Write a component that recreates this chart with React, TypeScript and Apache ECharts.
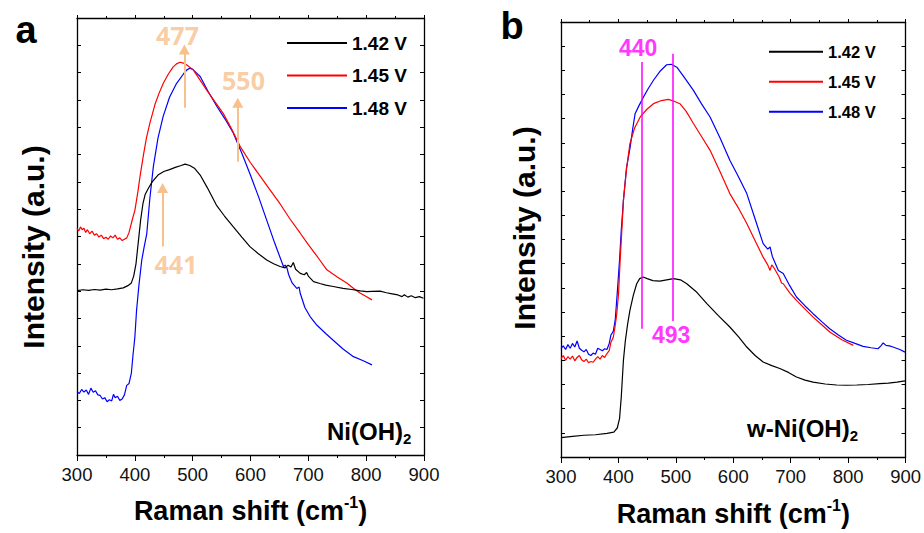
import React, { useEffect, useRef } from "react";
import * as echarts from "echarts";

// ---------- data ----------
const xTicks = [300, 400, 500, 600, 700, 800, 900];
const seriesNames = ["1.42 V", "1.45 V", "1.48 V"];
const seriesColors = ["#000000", "#ff0000", "#0000ff"];

// Panel a : Ni(OH)2
const a142: number[][] = [[300,6.02],[310,6.05],[320,6.03],[330,6.06],[340,6.04],[350,6.07],[360,6.05],[370,6.08],[380,6.12],[388,6.2],[394,6.3],[398,6.55],[402,7.0],[406,7.8],[410,8.6],[414,9.2],[418,9.55],[423,9.75],[430,10.0],[440,10.25],[450,10.38],[460,10.45],[470,10.53],[480,10.6],[487,10.65],[495,10.6],[503,10.5],[513,10.25],[525,9.8],[541,9.15],[555,8.75],[570,8.36],[585,7.98],[599,7.63],[613,7.38],[628,7.14],[640,7.0],[651,6.9],[660,6.85],[665,6.95],[670,6.88],[674,7.05],[678,6.8],[686,6.65],[693,6.6],[697,6.68],[700,6.55],[709,6.35],[720,6.28],[730,6.22],[743,6.17],[760,6.1],[775,6.06],[790,6.01],[801,5.98],[810,5.99],[824,6.0],[835,5.94],[845,5.9],[855,5.86],[862,5.8],[866,5.87],[872,5.78],[878,5.83],[885,5.76],[892,5.8],[899,5.74]];
const a145: number[][] = [[300,8.3],[303,8.2],[306,8.35],[309,8.25],[312,8.3],[315,8.15],[318,8.25],[322,8.1],[326,8.2],[330,8.05],[334,8.1],[338,7.98],[342,8.05],[346,7.92],[350,7.97],[354,7.9],[358,8.02],[362,7.95],[366,8.05],[370,7.9],[374,7.95],[378,7.85],[382,7.9],[386,7.95],[390,8.15],[393,8.4],[396,8.65],[400,8.95],[405,9.6],[409,10.2],[415,11.0],[420,11.6],[426,12.15],[435,12.85],[442,13.25],[449,13.6],[458,13.95],[466,14.2],[472,14.32],[478,14.38],[484,14.35],[490,14.28],[501,14.1],[512,13.75],[524,13.37],[538,12.95],[553,12.5],[567,11.95],[582,11.3],[600,10.7],[617,10.2],[634,9.7],[651,9.2],[668,8.65],[686,8.12],[700,7.7],[716,7.25],[732,6.78],[750,6.52],[767,6.29],[780,6.07],[790,5.92],[800,5.8],[810,5.68]];
const a148: number[][] = [[300,2.32],[304,2.25],[308,2.4],[312,2.3],[316,2.38],[320,2.22],[324,2.45],[328,2.3],[332,2.35],[336,2.2],[340,2.18],[344,2.05],[348,2.1],[352,1.95],[356,2.02],[360,1.98],[363,2.22],[366,2.1],[370,2.15],[374,2.0],[378,2.05],[382,2.2],[386,2.55],[390,2.62],[394,3.0],[397,3.7],[400,4.3],[403,5.3],[407,6.2],[412,7.14],[416,7.6],[420.6,8.1],[426,9.4],[432,10.56],[440,11.6],[449,12.4],[460,13.1],[472,13.6],[484,13.95],[490,14.1],[495,14.16],[500,14.12],[506,14.0],[513,13.86],[527,13.3],[542,12.76],[556,12.3],[570,11.8],[585,11.05],[599,10.3],[614,9.45],[628,8.6],[642,7.75],[657,6.9],[660,6.95],[663,6.85],[666,6.6],[672,6.3],[680,6.1],[684,6.15],[686,5.92],[694,5.4],[703,5.07],[715,4.75],[730,4.45],[743,4.2],[760,3.88],[778,3.6],[795,3.45],[810,3.3]];

// Panel b : w-Ni(OH)2
const b142: number[][] = [[300,0.8],[320,0.85],[340,0.9],[360,0.92],[380,0.98],[392,1.03],[398,1.2],[402,1.6],[405,2.5],[408.7,4.0],[412,4.8],[416,5.5],[420,6.07],[426,6.7],[431.8,7.17],[437,7.38],[443,7.45],[450,7.38],[460,7.3],[472,7.28],[484,7.33],[496,7.38],[508,7.33],[519,7.17],[535,6.85],[554,6.35],[574,5.85],[594,5.38],[610,4.95],[623.5,4.55],[638,4.2],[652,3.93],[667,3.78],[681,3.66],[696,3.5],[710,3.31],[725,3.18],[739,3.1],[760,3.02],[780,2.98],[797,2.97],[815,2.98],[835,3.0],[855,3.04],[870,3.06],[885,3.1],[899,3.15]];
const b145: number[][] = [[300,4.07],[304,4.2],[308,4.0],[312,4.15],[316,4.05],[320,4.18],[324,3.98],[328,4.12],[332,4.2],[336,4.02],[340,3.95],[344,4.05],[348,3.9],[352,3.95],[356,3.92],[360,4.05],[364,4.15],[368,4.05],[372,4.2],[376,4.12],[380,4.28],[384,4.4],[387,4.75],[391,4.95],[394,5.38],[397,5.9],[400.2,6.76],[403,8.14],[406,9.4],[408.7,10.62],[414,11.9],[420,12.97],[428,13.6],[437.9,14.07],[450,14.4],[461,14.62],[475,14.75],[487,14.8],[497,14.72],[507,14.62],[518,14.3],[530.6,13.8],[545,13.25],[559.6,12.69],[577,11.8],[594,10.9],[609,10.3],[623.5,9.66],[638,8.95],[652,8.27],[660,7.95],[664,7.72],[667,7.95],[670,7.86],[680,7.45],[684,7.2],[687,7.17],[698,6.8],[710,6.48],[725,6.12],[739,5.79],[754,5.47],[768,5.17],[789,4.85],[809,4.62]];
const b148: number[][] = [[300,4.48],[304,4.6],[308,4.45],[312,4.65],[316,4.5],[320,4.7],[324,4.55],[328,4.8],[332,4.5],[336,4.42],[340,4.35],[344,4.45],[348,4.25],[352,4.2],[356,4.3],[360,4.25],[364,4.5],[368,4.45],[372,4.4],[376,4.48],[380,4.45],[384,4.7],[387,5.05],[391,5.2],[394.4,5.66],[398,6.8],[401.9,8.14],[405,9.4],[408.7,10.62],[414,11.95],[420.5,12.83],[425,13.6],[429,14.2],[436,14.55],[443.7,14.9],[452,15.25],[461,15.59],[472,15.95],[484,16.23],[492,16.25],[501.7,16.13],[515,15.7],[530.6,15.17],[545,14.6],[559.6,14.07],[577,13.2],[594,12.28],[609,11.6],[623.5,10.9],[638,9.85],[652,8.83],[660,8.6],[664,8.69],[668,8.3],[678.5,7.72],[687,7.59],[698,7.1],[710,6.62],[725,6.25],[739,5.93],[754,5.6],[768,5.31],[783,5.05],[797,4.83],[812,4.7],[826,4.58],[840,4.52],[852,4.48],[857,4.6],[861,4.72],[866,4.62],[872,4.6],[878,4.55],[890,4.45],[899,4.34]];

// annotations: [x, y, text]
const aLabels: (number | string)[][] = [[473.8, 15.38, "477"], [587.9, 13.73, "550"], [471.2, 6.99, "441"]];
// arrows: [x, yTail, yTip]
const aArrows: number[][] = [[485.6, 12.71, 14.85], [578, 10.74, 12.9], [448, 7.63, 9.78]];
const bLabels: (number | string)[][] = [[434.4, 16.93, "440"], [491.8, 5.03, "493"]];
// magenta lines: [x, yLow, yHigh]
const bLines: number[][] = [[440, 5.31, 16.34], [494, 5.63, 16.69]];

const FONT = "Liberation Sans, Arial, sans-serif";

export default function App() {
  const ref = useRef<HTMLDivElement>(null);
  useEffect(() => {
    const chart = echarts.init(ref.current!, null, { renderer: "svg" });

    const grids = [
      { left: 77, top: 18, width: 347, height: 437 },
      { left: 561, top: 22, width: 345, height: 435 },
    ];
    const yMax = [16, 18];
    const nameGaps = [39, 40];

    const titleRich = {
      m: { fontSize: 27, fontWeight: "bold", fontFamily: FONT, color: "#000", lineHeight: 34 },
      s: { fontSize: 16, fontWeight: "bold", fontFamily: FONT, color: "#000", lineHeight: 16, verticalAlign: "top" },
    };

    const xAxes: any[] = [];
    const yAxes: any[] = [];
    [0, 1].forEach((g) => {
      xAxes.push({
        gridIndex: g, type: "value", min: xTicks[0], max: xTicks[xTicks.length - 1], interval: 100,
        position: "bottom",
        axisLine: { show: true, onZero: false, lineStyle: { color: "#000", width: 1.3 } },
        axisTick: { show: true, inside: false, length: 6, lineStyle: { color: "#000", width: 1 } },
        minorTick: { show: true, splitNumber: 2, length: 3, lineStyle: { color: "#000", width: 1 } },
        axisLabel: { fontSize: 18.5, color: "#111", fontFamily: FONT, margin: 10 },
        splitLine: { show: false },
        name: "{m|Raman shift (cm}{s|-1}{m|)}",
        nameLocation: "middle",
        nameGap: nameGaps[g],
        nameTextStyle: { rich: titleRich },
      });
      xAxes.push({
        gridIndex: g, type: "value", min: xTicks[0], max: xTicks[xTicks.length - 1], interval: 100,
        position: "top",
        axisLine: { show: true, onZero: false, lineStyle: { color: "#000", width: 1.3 } },
        axisTick: { show: true, inside: false, length: 3, lineStyle: { color: "#000", width: 1 } },
        minorTick: { show: true, splitNumber: 2, length: 2, lineStyle: { color: "#000", width: 1 } },
        axisLabel: { show: false },
        splitLine: { show: false },
      });
      ["left", "right"].forEach((pos) => {
        yAxes.push({
          gridIndex: g, type: "value", min: 0, max: yMax[g], interval: 1, position: pos,
          axisLine: { show: true, onZero: false, lineStyle: { color: "#000", width: 1.3 } },
          axisTick: { show: true, inside: true, length: 4, lineStyle: { color: "#000", width: 1 } },
          axisLabel: { show: false },
          splitLine: { show: false },
        });
      });
    });

    const panelData = [[a142, a145, a148], [b142, b145, b148]];
    const series: any[] = [];
    panelData.forEach((sets, g) => {
      sets.forEach((d, i) => {
        series.push({
          type: "line", name: seriesNames[i], xAxisIndex: g * 2, yAxisIndex: g * 2,
          data: d, showSymbol: false, symbol: "none",
          lineStyle: { color: seriesColors[i], width: 1.2 },
          itemStyle: { color: seriesColors[i] },
          z: 3 - i,
        });
      });
    });

    const ORANGE = "#f8c08c";
    const MAGENTA = "#ff00ff";
    series.push({
      type: "scatter", name: "annA", xAxisIndex: 0, yAxisIndex: 0,
      data: aLabels, symbolSize: 1, itemStyle: { color: "transparent" }, silent: true,
      label: {
        show: true, position: "inside", formatter: (p: any) => p.value[2],
        color: ORANGE, fontSize: 25, fontWeight: "bold", fontFamily: "Open Sans, sans-serif",
      },
      markLine: {
        silent: true, symbol: ["none", "triangle"], symbolSize: [11, 10],
        label: { show: false },
        lineStyle: { color: ORANGE, width: 2, type: "solid" },
        data: aArrows.map((a) => [{ coord: [a[0], a[1]] }, { coord: [a[0], a[2]] }]),
      },
    });
    series.push({
      type: "scatter", name: "annB", xAxisIndex: 2, yAxisIndex: 2,
      data: bLabels, symbolSize: 1, itemStyle: { color: "transparent" }, silent: true,
      label: {
        show: true, position: "inside", formatter: (p: any) => p.value[2],
        color: MAGENTA, fontSize: 23, fontWeight: "bold", fontFamily: FONT,
      },
      markLine: {
        silent: true, symbol: ["none", "none"],
        label: { show: false },
        lineStyle: { color: MAGENTA, width: 1.5, type: "solid" },
        data: bLines.map((l) => [{ coord: [l[0], l[1]] }, { coord: [l[0], l[2]] }]),
      },
    });

    const legendCommon = {
      orient: "vertical", icon: "rect", itemHeight: 2, selectedMode: false, padding: 0,
      data: seriesNames,
    };

    const subRich = (size: number) => ({
      m: { fontSize: size, fontWeight: "bold", fontFamily: FONT, fill: "#000", lineHeight: 30 },
      s: { fontSize: 15, fontWeight: "bold", fontFamily: FONT, fill: "#000", lineHeight: 15, verticalAlign: "bottom" },
    });

    const txt = (x: number, y: number, text: string, size: number) => ({
      type: "text", x, y, silent: true,
      style: {
        text, fill: "#000", fontSize: size, fontWeight: "bold", fontFamily: FONT,
        textAlign: "center", textVerticalAlign: "middle", align: "center", verticalAlign: "middle",
      },
    });

    chart.setOption({
      animation: false,
      backgroundColor: "#ffffff",
      grid: grids,
      xAxis: xAxes,
      yAxis: yAxes,
      legend: [
        { ...legendCommon, left: 287, top: 33, itemWidth: 60, itemGap: 12.5,
          textStyle: { fontSize: 19, fontWeight: "bold", color: "#000", fontFamily: FONT, lineHeight: 20 } },
        { ...legendCommon, left: 769, top: 42.7, itemWidth: 54, itemGap: 12,
          textStyle: { fontSize: 16.5, fontWeight: "bold", color: "#000", fontFamily: FONT, lineHeight: 18 } },
      ],
      series,
      graphic: [
        txt(26, 30, "a", 38),
        txt(512, 26, "b", 38),
        { ...txt(33, 247, "Intensity (a.u.)", 30), rotation: Math.PI / 2 },
        { ...txt(524, 228, "Intensity (a.u.)", 30), rotation: Math.PI / 2 },
        {
          type: "text", x: 327, y: 431, silent: true,
          style: { text: "{m|Ni(OH)}{s|2}", rich: subRich(24), textAlign: "left", textVerticalAlign: "middle", align: "left", verticalAlign: "middle" },
        },
        {
          type: "text", x: 747, y: 428, silent: true,
          style: { text: "{m|w-Ni(OH)}{s|2}", rich: subRich(24), textAlign: "left", textVerticalAlign: "middle", align: "left", verticalAlign: "middle" },
        },
      ],
    });
    return () => chart.dispose();
  }, []);

  return (
    <div
      ref={ref}
      style={{ position: "fixed", left: 0, top: 0, width: 924, height: 533, background: "#fff" }}
    />
  );
}
